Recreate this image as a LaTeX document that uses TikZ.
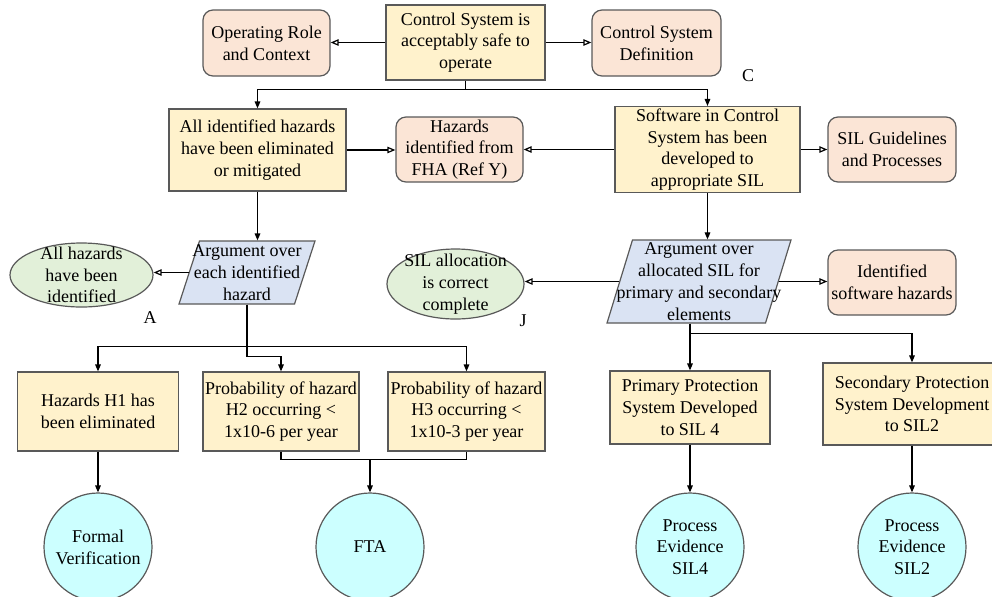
\documentclass[tikz,border=0pt]{standalone}
\usepackage{fontspec}
\setmainfont{Liberation Serif}
\usetikzlibrary{arrows.meta, shapes, positioning}
\usepackage{xcolor}
\newcommand{\gsnfont}{\fontsize{9}{10.9}\selectfont}
\definecolor{goalyellow}{RGB}{255,242,204}
\definecolor{contextpeach}{RGB}{251,229,214}
\definecolor{strategyblue}{RGB}{218,227,243}
\definecolor{justgreen}{RGB}{226,240,217}
\definecolor{solutioncyan}{RGB}{204,255,255}
\definecolor{bordergray}{RGB}{89,89,89}
\tikzset{goalnode/.style={rectangle, fill=goalyellow, draw=bordergray, line width=0.6pt, align=center, inner sep=1pt, font=\gsnfont},
contextnode/.style={rectangle, rounded corners=5pt, fill=contextpeach, draw=bordergray, line width=0.6pt, align=center, inner sep=1pt, font=\gsnfont},
strategynode/.style={trapezium, trapezium left angle=77, trapezium right angle=103, trapezium stretches=true, fill=strategyblue, draw=bordergray, line width=0.6pt, inner sep=0.5pt},
justnode/.style={ellipse, fill=justgreen, draw=bordergray, line width=0.6pt, inner sep=0.5pt},
solutionnode/.style={circle, fill=solutioncyan, draw=bordergray, line width=0.6pt, minimum size=54pt, inner sep=1pt, align=center, font=\gsnfont},
textnode/.style={align=center, inner sep=0pt, font=\gsnfont},
tagnode/.style={inner sep=0pt, font=\gsnfont},
solarrow/.style={-{Triangle[length=3.5pt, width=2.8pt]}, line width=0.6pt},
ctxarrow/.style={-{Triangle[open, length=4pt, width=3.2pt]}, line width=0.6pt}}

\begin{document}
\begin{tikzpicture}[x=0.5pt, y=-0.5pt]
\useasboundingbox (0,0) rectangle (992,596);
\clip (0,0) rectangle (992,596);

% Top goal and context
\node[goalnode, minimum width=79.5pt, minimum height=37.5pt] (goal) at (465.5,42.5) {Control System is\\acceptably safe to\\operate};
\node[contextnode, minimum width=63.5pt, minimum height=33pt] (role) at (266.5,43) {Operating Role\\and Context};
\node[contextnode, minimum width=64.5pt, minimum height=33pt] (csd) at (656.5,43) {Control System\\Definition};
\node[tagnode] (tagC) at (748,76) {C};

% Second row
\node[goalnode, minimum width=88.5pt, minimum height=41pt] (allhaz) at (257.5,150) {All identified hazards\\have been eliminated\\or mitigated};
\node[contextnode, minimum width=63.5pt, minimum height=32.5pt] (fha) at (459.5,149.5) {Hazards\\identified from\\FHA (Ref Y)};
\node[goalnode, minimum width=92.5pt, minimum height=42.5pt] (sw) at (707.5,149.5) {Software in Control\\System has been\\developed to\\appropriate SIL};
\node[contextnode, minimum width=64pt, minimum height=32.5pt] (silg) at (892,149.5) {SIL Guidelines\\and Processes};

% Strategies and justifications
\node[strategynode, minimum width=68pt, minimum height=31.5pt] (argh) at (247,272.5) {\phantom{x}};
\node[textnode] (argh-t) at (argh) {Argument over\\each identified\\hazard};
\node[justnode, minimum width=71.5pt, minimum height=32pt] (ellA) at (81.5,275) {\phantom{x}};
\node[textnode] (ellA-t) at (ellA) {All hazards\\have been\\identified};
\node[tagnode] (tagA) at (150,318) {A};
\node[strategynode, trapezium left angle=78.4, trapezium right angle=101.6, minimum width=92pt, minimum height=41.5pt] (argsil) at (699,281.5) {\phantom{x}};
\node[textnode] (argsil-t) at (argsil) {Argument over\\allocated SIL for\\primary and secondary\\elements};
\node[justnode, minimum width=68.5pt, minimum height=35pt] (ellJ) at (455.5,284) {\phantom{x}};
\node[textnode] (ellJ-t) at (ellJ) {SIL allocation\\is correct\\complete};
\node[tagnode] (tagJ) at (523,321) {J};
\node[contextnode, minimum width=64pt, minimum height=32.5pt] (idsw) at (892,282.5) {Identified\\software hazards};

% Sub-goals
\node[goalnode, minimum width=80.5pt, minimum height=39.5pt] (h1) at (98,411.5) {Hazards H1 has\\been eliminated};
\node[goalnode, minimum width=78pt, minimum height=39.5pt] (h2) at (281,411.5) {Probability of hazard\\H2 occurring <\\1x10-6 per year};
\node[goalnode, minimum width=78.5pt, minimum height=39.5pt] (h3) at (466.5,411.5) {Probability of hazard\\H3 occurring <\\1x10-3 per year};
\node[goalnode, minimum width=80pt, minimum height=36.5pt] (prim) at (690,407.5) {Primary Protection\\System Developed\\to SIL 4};
\node[goalnode, minimum width=89pt, minimum height=41pt] (sec) at (912,404) {Secondary Protection\\System Development\\to SIL2};

% Solutions
\node[solutionnode] (fv) at (98,547) {Formal\\Verification};
\node[solutionnode] (fta) at (370,547) {FTA};
\node[solutionnode] (pe4) at (690,547) {Process\\Evidence\\SIL4};
\node[solutionnode] (pe2) at (912,547) {Process\\Evidence\\SIL2};

% Connectors
\draw[ctxarrow] (goal.west) -- (goal.west -| role.east);
\draw[ctxarrow] (goal.east) -- (goal.east -| csd.west);
\draw[line width=0.6pt] (goal.south) -- ++(0,9) coordinate (goalbus);
\draw[solarrow] (goalbus) -| (allhaz.north);
\draw[solarrow] (goalbus) -| (sw.north);
\draw[ctxarrow] (allhaz.east) -- (allhaz.east -| fha.west);
\draw[ctxarrow] (sw.west) -- (sw.west -| fha.east);
\draw[ctxarrow] (sw.east) -- (sw.east -| silg.west);
\draw[solarrow] (allhaz.south) -- (allhaz.south |- argh.north);
\draw[ctxarrow] (argh.west) -- (argh.west -| ellA.east);
\draw[solarrow] (sw.south) -- (sw.south |- argsil.north);
\draw[ctxarrow] (argsil.west) -- (argsil.west -| ellJ.east);
\draw[ctxarrow] (argsil.east) -- (argsil.east -| idsw.west);

\draw[line width=0.6pt] (argh.south) -- ++(0,42) coordinate (arghbus);
\draw[solarrow] (arghbus) -| (h1.north);
\draw[solarrow] (arghbus) -| (h3.north);
\draw[solarrow] (argh.south) -- ++(0,52) -| (h2.north);
\draw[solarrow] (argsil.south -| prim.north) -- (prim.north);
\draw[solarrow] (argsil.south -| prim.north) -- ++(0,10) -| (sec.north);

\draw[solarrow] (h1.south) -- (fv.north);
\draw[line width=0.6pt] (h2.south) -- ++(0,8) coordinate (h2bus) -| (h3.south);
\draw[solarrow] (h2bus -| fta.north) -- (fta.north);
\draw[solarrow] (prim.south) -- (pe4.north);
\draw[solarrow] (sec.south) -- (pe2.north);
\end{tikzpicture}
\end{document}
